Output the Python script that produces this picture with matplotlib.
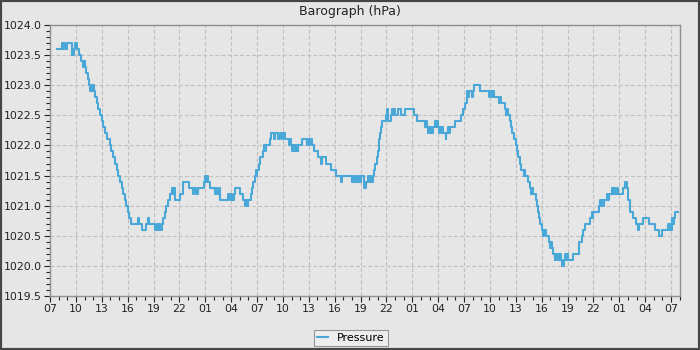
import matplotlib
matplotlib.use('Agg')
import matplotlib.pyplot as plt
from matplotlib.patches import Rectangle

# hours since 07:00 on day 1, pressure reading (hPa) holds until the next entry
hours = [0.77, 1.35, 1.45, 1.55, 1.7, 2.0, 2.5, 2.6, 2.7, 2.8, 2.95, 3.1, 3.4, 3.55, 3.85, 3.95, 4.05, 4.2, 4.4, 4.5,
         4.6, 4.75, 4.85, 4.95, 5.05, 5.2, 5.4, 5.55, 5.8, 6.0, 6.15, 6.35, 6.6, 6.9, 7.1, 7.3, 7.55, 7.75, 7.85, 8.1,
         8.3, 8.5, 8.65, 8.85, 9.0, 9.2, 9.35, 10.15, 10.35, 10.7, 11.15, 11.4, 11.5, 12.2, 12.35, 12.5, 12.65, 12.8, 12.95, 13.15,
         13.35, 13.5, 13.7, 13.9, 14.2, 14.3, 14.4, 14.5, 15.1, 15.4, 16.15, 16.6, 16.75, 16.9, 17.2, 17.8, 18.0, 18.1, 18.2, 18.3,
         18.5, 19.1, 19.25, 19.4, 19.55, 19.7, 20.65, 20.85, 21.0, 21.15, 21.3, 21.5, 22.0, 22.4, 22.55, 22.7, 22.85, 23.0, 23.25, 23.4,
         23.55, 23.75, 23.85, 23.95, 24.05, 24.2, 24.4, 24.75, 24.85, 24.95, 25.05, 25.5, 25.65, 26.0, 26.1, 26.4, 26.7, 26.85, 27.0, 27.3,
         27.75, 27.85, 27.95, 28.05, 28.15, 28.25, 28.35, 28.5, 28.6, 28.7, 28.8, 29.2, 29.75, 29.85, 30.0, 30.1, 30.4, 30.65, 31.05, 31.4,
         31.5, 32.0, 32.6, 33.1, 33.7, 33.9, 35.0, 35.15, 35.3, 35.5, 35.75, 35.85, 35.95, 36.05, 36.4, 36.6, 36.9, 37.0, 37.15, 37.25,
         37.4, 37.55, 37.7, 37.9, 38.0, 38.1, 38.25, 38.35, 38.45, 39.0, 39.05, 39.15, 39.2, 39.5, 39.7, 39.8, 39.9, 40.0, 40.4, 40.75,
         41.2, 42.2, 42.6, 43.5, 43.6, 43.7, 43.8, 43.95, 44.05, 44.2, 44.3, 44.4, 44.6, 44.75, 44.85, 45.0, 45.1, 45.25, 45.4, 45.5,
         45.6, 45.9, 45.95, 46.2, 46.3, 46.4, 47.0, 47.6, 47.9, 48.1, 48.3, 48.4, 48.5, 48.6, 48.9, 49.05, 49.2, 49.8, 50.9, 51.05,
         51.2, 51.35, 51.5, 52.0, 52.1, 52.25, 52.7, 52.9, 53.0, 53.1, 53.3, 53.5, 53.6, 53.85, 54.05, 54.15, 54.3, 54.5, 54.6, 54.9,
         55.0, 55.1, 55.4, 55.6, 55.8, 55.9, 56.0, 56.3, 56.5, 56.6, 56.7, 56.85, 57.0, 57.2, 57.3, 57.45, 57.8, 58.0, 58.1, 58.2,
         58.35, 58.5, 58.6, 58.75, 58.85, 59.0, 59.1, 59.25, 59.4, 59.6, 59.7, 59.85, 59.95, 60.1, 60.65, 61.3, 61.7, 61.8, 62.0, 62.3,
         62.6, 62.8, 62.9, 63.0, 63.65, 63.75, 63.85, 64.0, 64.1, 64.25, 64.6, 64.7, 64.8, 65.1, 65.25, 65.4, 65.55, 65.7, 65.85, 66.4,
         66.65, 66.85, 67.0, 67.05, 67.2, 67.3, 67.6, 67.95, 68.2, 68.3, 68.7, 69.4, 70.1, 70.6, 71.0, 71.7, 71.8, 71.9, 72.0, 72.1,
         72.2, 72.3, 72.5, 72.8]
hpa = [1023.6, 1023.7, 1023.6, 1023.7, 1023.6, 1023.7, 1023.5, 1023.6, 1023.5, 1023.6, 1023.7, 1023.6, 1023.5, 1023.4, 1023.3, 1023.4, 1023.3, 1023.2, 1023.1, 1023.0,
       1022.9, 1023.0, 1022.9, 1023.0, 1022.9, 1022.8, 1022.7, 1022.6, 1022.5, 1022.4, 1022.3, 1022.2, 1022.1, 1022.0, 1021.9, 1021.8, 1021.7, 1021.6, 1021.5, 1021.4,
       1021.3, 1021.2, 1021.1, 1021.0, 1020.9, 1020.8, 1020.7, 1020.8, 1020.7, 1020.6, 1020.7, 1020.8, 1020.7, 1020.6, 1020.7, 1020.6, 1020.7, 1020.6, 1020.7, 1020.8,
       1020.9, 1021.0, 1021.1, 1021.2, 1021.3, 1021.2, 1021.3, 1021.1, 1021.2, 1021.4, 1021.3, 1021.2, 1021.3, 1021.2, 1021.3, 1021.4, 1021.5, 1021.4, 1021.5, 1021.4,
       1021.3, 1021.2, 1021.3, 1021.2, 1021.3, 1021.1, 1021.2, 1021.1, 1021.2, 1021.1, 1021.2, 1021.3, 1021.2, 1021.1, 1021.0, 1021.1, 1021.0, 1021.1, 1021.2, 1021.3,
       1021.4, 1021.5, 1021.6, 1021.5, 1021.6, 1021.7, 1021.8, 1021.9, 1022.0, 1021.9, 1022.0, 1022.1, 1022.2, 1022.1, 1022.2, 1022.1, 1022.2, 1022.1, 1022.2, 1022.1,
       1022.0, 1022.1, 1022.0, 1021.9, 1022.0, 1021.9, 1022.0, 1021.9, 1022.0, 1021.9, 1022.0, 1022.1, 1022.0, 1022.1, 1022.0, 1022.1, 1022.0, 1021.9, 1021.8, 1021.7,
       1021.8, 1021.7, 1021.6, 1021.5, 1021.4, 1021.5, 1021.4, 1021.5, 1021.4, 1021.5, 1021.4, 1021.5, 1021.4, 1021.5, 1021.3, 1021.4, 1021.5, 1021.4, 1021.5, 1021.4,
       1021.5, 1021.6, 1021.7, 1021.8, 1021.9, 1022.1, 1022.2, 1022.3, 1022.4, 1022.5, 1022.6, 1022.5, 1022.4, 1022.5, 1022.6, 1022.5, 1022.6, 1022.5, 1022.6, 1022.5,
       1022.6, 1022.5, 1022.4, 1022.3, 1022.4, 1022.3, 1022.2, 1022.3, 1022.2, 1022.3, 1022.2, 1022.3, 1022.4, 1022.3, 1022.4, 1022.3, 1022.2, 1022.3, 1022.2, 1022.3,
       1022.2, 1022.1, 1022.2, 1022.3, 1022.2, 1022.3, 1022.4, 1022.5, 1022.6, 1022.7, 1022.8, 1022.9, 1022.8, 1022.9, 1022.8, 1022.9, 1023.0, 1022.9, 1022.8, 1022.9,
       1022.8, 1022.9, 1022.8, 1022.7, 1022.8, 1022.7, 1022.6, 1022.5, 1022.6, 1022.5, 1022.4, 1022.3, 1022.2, 1022.1, 1022.0, 1021.9, 1021.8, 1021.7, 1021.6, 1021.5,
       1021.6, 1021.5, 1021.4, 1021.3, 1021.2, 1021.3, 1021.2, 1021.1, 1021.0, 1020.9, 1020.8, 1020.7, 1020.6, 1020.5, 1020.6, 1020.5, 1020.4, 1020.3, 1020.4, 1020.3,
       1020.2, 1020.1, 1020.2, 1020.1, 1020.2, 1020.1, 1020.2, 1020.1, 1020.0, 1020.1, 1020.2, 1020.1, 1020.2, 1020.1, 1020.2, 1020.4, 1020.5, 1020.6, 1020.7, 1020.7,
       1020.8, 1020.9, 1020.8, 1020.9, 1021.0, 1021.1, 1021.0, 1021.1, 1021.0, 1021.1, 1021.2, 1021.1, 1021.2, 1021.3, 1021.2, 1021.3, 1021.2, 1021.3, 1021.2, 1021.3,
       1021.4, 1021.3, 1021.2, 1021.1, 1021.0, 1020.9, 1020.8, 1020.7, 1020.6, 1020.7, 1020.8, 1020.7, 1020.6, 1020.5, 1020.6, 1020.7, 1020.6, 1020.7, 1020.6, 1020.8,
       1020.7, 1020.8, 1020.9, 1020.9]

tick_hours = list(range(0, 73, 3))
tick_labels = ['07', '10', '13', '16', '19', '22', '01', '04', '07', '10', '13', '16', '19',
               '22', '01', '04', '07', '10', '13', '16', '19', '22', '01', '04', '07']

bg = '#e6e6e6'
line_col = '#4aa8d8'

fig = plt.figure(figsize=(7, 3.5), dpi=100, facecolor=bg)
ax = fig.add_axes([50/700, 1 - 296/350, 630/700, 271/350], facecolor=bg)

ax.step(hours, hpa, where='post', color=line_col, lw=1.5, label='Pressure', zorder=3)

ax.set_xlim(0, 73.04)
ax.set_ylim(1019.5, 1024.0)
ax.set_xticks(tick_hours)
ax.set_xticklabels(tick_labels)
ax.set_xticks(range(0, 74), minor=True)
ax.set_yticks([1019.5 + 0.5 * i for i in range(10)])
ax.set_yticklabels([f'{1019.5 + 0.5 * i:.1f}' for i in range(10)])
ax.set_yticks([1019.5 + 0.1 * i for i in range(46)], minor=True)

ax.tick_params(which='both', direction='out', colors='#222222', labelsize=7.8, width=0.8)
ax.tick_params(which='major', length=4, pad=2)
ax.tick_params(which='minor', length=3)
ax.grid(True, which='major', color='#c0c0c0', linestyle=(0, (3.5, 2)), linewidth=0.8)
for s in ax.spines.values():
    s.set_color('#909090')
    s.set_linewidth(1.0)

fig.text(0.5, 1 - 12/350, 'Barograph (hPa)', ha='center', va='center', fontsize=9, color='#222222')

leg = fig.legend(loc='center', bbox_to_anchor=(351/700, 1 - 338/350), fontsize=8, frameon=True,
                 fancybox=False, handlelength=1.0, handletextpad=0.8, borderpad=0.3, borderaxespad=0)
leg.get_frame().set_edgecolor('#808080')
leg.get_frame().set_facecolor('#f0f0f0')
leg.get_frame().set_linewidth(0.8)

fig.patches.append(Rectangle((0, 0), 1, 1, transform=fig.transFigure, fill=False,
                             edgecolor='#464646', lw=3, zorder=10))

fig.savefig('out.png', dpi=100, facecolor=bg)
